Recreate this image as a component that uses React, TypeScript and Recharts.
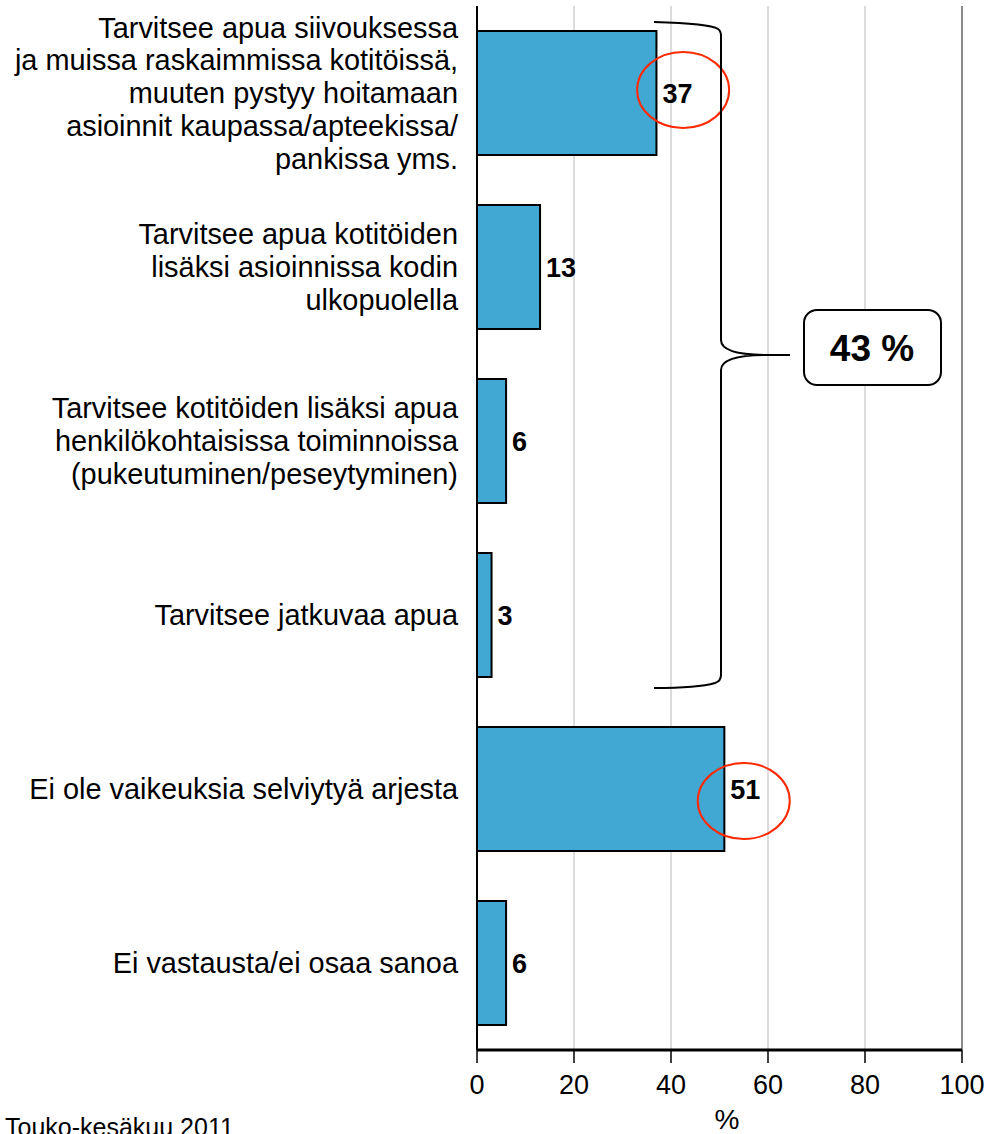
import React from "react";
import { Bar, BarChart, CartesianGrid, LabelList, ReferenceDot, ReferenceLine, XAxis, YAxis } from "recharts";

const categories = [
  "Tarvitsee apua siivouksessa\nja muissa raskaimmissa kotitöissä,\nmuuten pystyy hoitamaan\nasioinnit kaupassa/apteekissa/\npankissa yms.",
  "Tarvitsee apua kotitöiden\nlisäksi asioinnissa kodin\nulkopuolella",
  "Tarvitsee kotitöiden lisäksi apua\nhenkilökohtaisissa toiminnoissa\n(pukeutuminen/peseytyminen)",
  "Tarvitsee jatkuvaa apua",
  "Ei ole vaikeuksia selviytyä arjesta",
  "Ei vastausta/ei osaa sanoa",
];
const values = [37, 13, 6, 3, 51, 6];
const xTicks = [0, 20, 40, 60, 80, 100];
const bracketTotal = "43 %";
const axisTitle = "%";
const footnote = "Touko-kesäkuu 2011";

const rows = categories.map((name, i) => ({ name, value: values[i] }));

const FONT = '"Liberation Sans", Arial, sans-serif';

function CategoryTick(props: any) {
  const { x, y, payload } = props;
  const lines = String(payload.value).split("\n");
  const lh = 32.75;
  return (
    <text x={x} y={y} textAnchor="end" fontSize={28.9} fontFamily={FONT} fill="#000">
      {lines.map((line, i) => (
        <tspan key={i} x={x} y={y + (i - (lines.length - 1) / 2) * lh + 10}>
          {line}
        </tspan>
      ))}
    </text>
  );
}

function Ellipse(dy: number) {
  return (p: any) => (
    <ellipse cx={p.cx} cy={p.cy + dy} rx={46} ry={38} fill="none" stroke="#ff2a00" strokeWidth={2} />
  );
}

export default function App() {
  return (
    <div style={{ position: "absolute", left: 0, top: 0, width: 989, height: 1134, background: "#fff" }}>
      <BarChart
        layout="vertical"
        width={989}
        height={1134}
        data={rows}
        margin={{ top: 6, right: 27, bottom: 0, left: 0 }}
        barSize={124}
      >
        <CartesianGrid horizontal={false} stroke="#b8b8b8" strokeWidth={1} />
        <XAxis
          type="number"
          domain={[0, 100]}
          ticks={xTicks}
          interval={0}
          height={84}
          tickSize={13}
          tickMargin={12}
          axisLine={{ stroke: "#000", strokeWidth: 3 }}
          tickLine={{ stroke: "#000", strokeWidth: 1.5 }}
          tick={{ fill: "#000", fontSize: 27, fontFamily: FONT }}
        />
        <XAxis
          xAxisId="top"
          orientation="top"
          type="number"
          domain={[0, 100]}
          height={0}
          tick={false}
          tickLine={false}
          axisLine={{ stroke: "#000", strokeWidth: 2 }}
        />
        <YAxis
          type="category"
          dataKey="name"
          width={477}
          tickSize={0}
          tickMargin={19}
          tickLine={false}
          axisLine={{ stroke: "#000", strokeWidth: 2 }}
          tick={<CategoryTick />}
          interval={0}
        />
        <ReferenceLine x={100} stroke="#8a8a8a" strokeWidth={2} />
        <Bar dataKey="value" fill="#40a8d3" stroke="#000" strokeWidth={2} isAnimationActive={false}>
          <LabelList
            dataKey="value"
            position="right"
            offset={6}
            fill="#000"
            fontSize={27}
            fontWeight="bold"
            fontFamily={FONT}
          />
        </Bar>
        <ReferenceDot x={42.5} y={categories[0]} ifOverflow="visible" shape={Ellipse(-3)} />
        <ReferenceDot x={55} y={categories[4]} ifOverflow="visible" shape={Ellipse(12)} />
      </BarChart>
      <svg
        width={989}
        height={1134}
        style={{ position: "absolute", left: 0, top: 0, pointerEvents: "none" }}
      >
        <path
          d="M654 22 C690 23, 712 25, 718 29 Q721 31 721 36 L721 340 C721 352, 745 355, 768 355 L790 355 M768 355 C745 355, 721 358, 721 370 L721 675 Q721 681 715 683 C705 686, 690 688, 654 688"
          fill="none"
          stroke="#000"
          strokeWidth={2}
        />
        <rect x={804} y={310} width={137} height={75} rx={13} fill="#fff" stroke="#000" strokeWidth={2} />
        <text x={872} y={361} textAnchor="middle" fontSize={37} fontWeight="bold" fontFamily={FONT} fill="#000">
          {bracketTotal}
        </text>
        <text x={727} y={1129} textAnchor="middle" fontSize={28} fontFamily={FONT} fill="#000">
          {axisTitle}
        </text>
        <text x={5} y={1136} fontSize={25} fontFamily={FONT} fill="#000">
          {footnote}
        </text>
      </svg>
    </div>
  );
}
